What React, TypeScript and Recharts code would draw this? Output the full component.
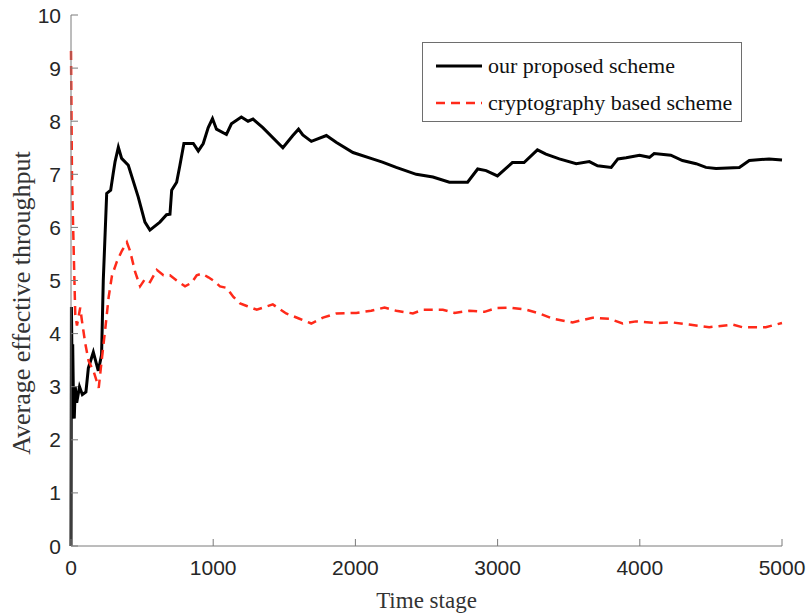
import {
  LineChart,
  Line,
  XAxis,
  YAxis,
  Legend,
} from "recharts";

const proposedT = [
  0, 3, 8, 12, 18, 23, 30, 40, 60, 80, 105, 122, 157, 192, 215, 227, 251, 279,
  298, 310, 333, 356, 403, 473, 520, 555, 625, 672, 696, 708, 743, 766, 794, 860,
  895, 930, 965, 995, 1023, 1093, 1128, 1198, 1245, 1280, 1349, 1490, 1560, 1600,
  1630, 1690, 1796, 1867, 1983, 2120, 2190, 2287, 2428, 2545, 2661, 2789, 2860,
  2919, 2999, 3104, 3186, 3280, 3340, 3434, 3553, 3645, 3703, 3799, 3846, 3904,
  3998, 4068, 4101, 4218, 4300, 4396, 4465, 4536, 4700, 4770, 4909, 5000,
];
const proposedV = [
  0, 4.5, 3.2, 3.8, 2.6, 2.4, 3.0, 2.7, 3.0, 2.85, 2.9, 3.35, 3.65, 3.3, 3.6,
  5.0, 6.64, 6.7, 7.04, 7.24, 7.51, 7.3, 7.17, 6.57, 6.1, 5.95, 6.1, 6.24, 6.25,
  6.7, 6.85, 7.17, 7.58, 7.58, 7.44, 7.58, 7.88, 8.05, 7.85, 7.75, 7.95, 8.08,
  8.0, 8.04, 7.88, 7.5, 7.73, 7.85, 7.74, 7.62, 7.73, 7.6, 7.41, 7.29, 7.23,
  7.13, 7.0, 6.95, 6.85, 6.85, 7.1, 7.07, 6.97, 7.22, 7.22, 7.46, 7.38, 7.29,
  7.2, 7.24, 7.16, 7.13, 7.29, 7.31, 7.36, 7.32, 7.39, 7.36, 7.26, 7.2, 7.13,
  7.11, 7.13, 7.26, 7.29, 7.27,
];

const cryptoT = [
  0, 7, 19, 30, 42, 65, 77, 100, 124, 159, 195, 218, 241, 265, 288, 323, 358,
  393, 415, 451, 486, 521, 556, 603, 650, 696, 743, 802, 849, 884, 920, 966,
  1001, 1048, 1095, 1142, 1189, 1236, 1306, 1419, 1513, 1607, 1690, 1772, 1866,
  2006, 2111, 2205, 2287, 2404, 2475, 2615, 2697, 2802, 2908, 2990, 3084, 3201,
  3295, 3387, 3527, 3668, 3785, 3879, 3973, 4113, 4230, 4347, 4488, 4652, 4723,
  4886, 5000,
];
const cryptoV = [
  9.32, 6.9, 5.56, 4.35, 4.15, 4.49, 4.24, 3.82, 3.48, 3.29, 2.98, 3.55, 4.09,
  4.69, 5.09, 5.36, 5.56, 5.72, 5.56, 5.16, 4.89, 5.03, 4.97, 5.2, 5.1, 5.1,
  5.0, 4.89, 4.96, 5.1, 5.13, 5.06, 5.0, 4.89, 4.86, 4.69, 4.57, 4.52, 4.45,
  4.55, 4.38, 4.28, 4.19, 4.3, 4.38, 4.39, 4.43, 4.49, 4.43, 4.38, 4.45, 4.45,
  4.39, 4.43, 4.41, 4.48, 4.49, 4.45, 4.38, 4.28, 4.21, 4.3, 4.28, 4.19, 4.23,
  4.2, 4.21, 4.17, 4.12, 4.17, 4.12, 4.12, 4.2,
];

const xTicks = [0, 1000, 2000, 3000, 4000, 5000];
const yTicks = [0, 1, 2, 3, 4, 5, 6, 7, 8, 9, 10];

const proposedData = proposedT.map((t, i) => ({ t, v: proposedV[i] }));
const cryptoData = cryptoT.map((t, i) => ({ t, v: cryptoV[i] }));

const AXIS = "#7a7a7a";
const TICK_TEXT = "#262626";
const SANS = "'Liberation Sans', Arial, sans-serif";
const SERIF = "'Liberation Serif', 'Times New Roman', serif";

const series = [
  { name: "our proposed scheme", color: "#000000", dash: undefined, width: 3 },
  { name: "cryptography based scheme", color: "#ff2a1a", dash: "9 6", width: 2.5 },
];

const BottomTick = ({ x, y, payload }: any) => (
  <g>
    <line x1={x} x2={x} y1={y} y2={y - 7} stroke={AXIS} />
    <text x={x} y={y + 29} textAnchor="middle" fontSize={21} fontFamily={SANS} fill={TICK_TEXT}>
      {payload.value}
    </text>
  </g>
);

const TopTick = ({ x, y }: any) => (
  <line x1={x} x2={x} y1={y} y2={y + 7} stroke={AXIS} />
);

const LeftTick = ({ x, y, payload }: any) => (
  <g>
    <line x1={x} x2={x + 7} y1={y} y2={y} stroke={AXIS} />
    <text x={x - 10} y={y + 7.5} textAnchor="end" fontSize={21} fontFamily={SANS} fill={TICK_TEXT}>
      {payload.value}
    </text>
  </g>
);

const RightTick = ({ x, y }: any) => (
  <line x1={x} x2={x - 7} y1={y} y2={y} stroke={AXIS} />
);

const LegendBox = () => (
  <div
    style={{
      position: "relative",
      width: 318,
      height: 78,
      border: "1px solid #6e6e6e",
      background: "#fff",
      boxSizing: "content-box",
    }}
  >
    {series.map((s, i) => (
      <div
        key={s.name}
        style={{
          position: "absolute",
          left: 12,
          top: 8 + i * 37,
          height: 30,
          display: "flex",
          alignItems: "center",
          whiteSpace: "nowrap",
        }}
      >
        <svg width={48} height={10} style={{ marginRight: 5 }}>
          <line
            x1={1}
            x2={47}
            y1={5}
            y2={5}
            stroke={s.color}
            strokeWidth={s.width}
            strokeDasharray={s.dash}
          />
        </svg>
        <span style={{ fontFamily: SERIF, fontSize: 22, color: "#111" }}>{s.name}</span>
      </div>
    ))}
  </div>
);

export default function App() {
  return (
    <div style={{ position: "absolute", left: 0, top: 0, background: "#fff" }}>
      <LineChart
        width={809}
        height={615}
        margin={{ top: 15, right: 27, bottom: 9, left: 11 }}
      >
        <XAxis
          xAxisId="b"
          dataKey="t"
          type="number"
          domain={[0, 5000]}
          ticks={xTicks}
          interval={0}
          height={60}
          tickSize={0}
          tickMargin={0}
          stroke={AXIS}
          tick={<BottomTick />}
          allowDuplicatedCategory={false}
          label={(p: any) => (
            <text
              x={p.viewBox.x + p.viewBox.width / 2}
              y={608}
              textAnchor="middle"
              fontSize={23}
              fontFamily={SERIF}
              fill="#333"
            >
              Time stage
            </text>
          )}
        />
        <XAxis
          xAxisId="t"
          orientation="top"
          dataKey="t"
          type="number"
          domain={[0, 5000]}
          ticks={xTicks}
          interval={0}
          height={0}
          tickSize={0}
          stroke={AXIS}
          tick={<TopTick />}
          allowDuplicatedCategory={false}
        />
        <YAxis
          yAxisId="l"
          type="number"
          domain={[0, 10]}
          ticks={yTicks}
          interval={0}
          width={60}
          tickSize={0}
          tickMargin={0}
          stroke={AXIS}
          tick={<LeftTick />}
          label={() => (
            <text
              x={0}
              y={0}
              transform="translate(30, 303) rotate(-90)"
              textAnchor="middle"
              fontSize={26}
              fontFamily={SERIF}
              fill="#333"
            >
              Average effective throughput
            </text>
          )}
        />
        <YAxis
          yAxisId="r"
          orientation="right"
          type="number"
          domain={[0, 10]}
          ticks={yTicks}
          interval={0}
          width={0}
          tickSize={0}
          stroke={AXIS}
          tick={<RightTick />}
        />
        <Legend
          layout="vertical"
          align="center"
          verticalAlign="middle"
          content={<LegendBox />}
          wrapperStyle={{ position: "absolute", left: 422, top: 42, width: 320, height: 80 }}
        />
        <Line
          xAxisId="b"
          yAxisId="l"
          data={proposedData}
          dataKey="v"
          name={series[0].name}
          stroke={series[0].color}
          strokeWidth={series[0].width}
          dot={false}
          activeDot={false}
          isAnimationActive={false}
        />
        <Line
          xAxisId="b"
          yAxisId="l"
          data={cryptoData}
          dataKey="v"
          name={series[1].name}
          stroke={series[1].color}
          strokeWidth={series[1].width}
          strokeDasharray={series[1].dash}
          dot={false}
          activeDot={false}
          isAnimationActive={false}
        />
      </LineChart>
    </div>
  );
}
